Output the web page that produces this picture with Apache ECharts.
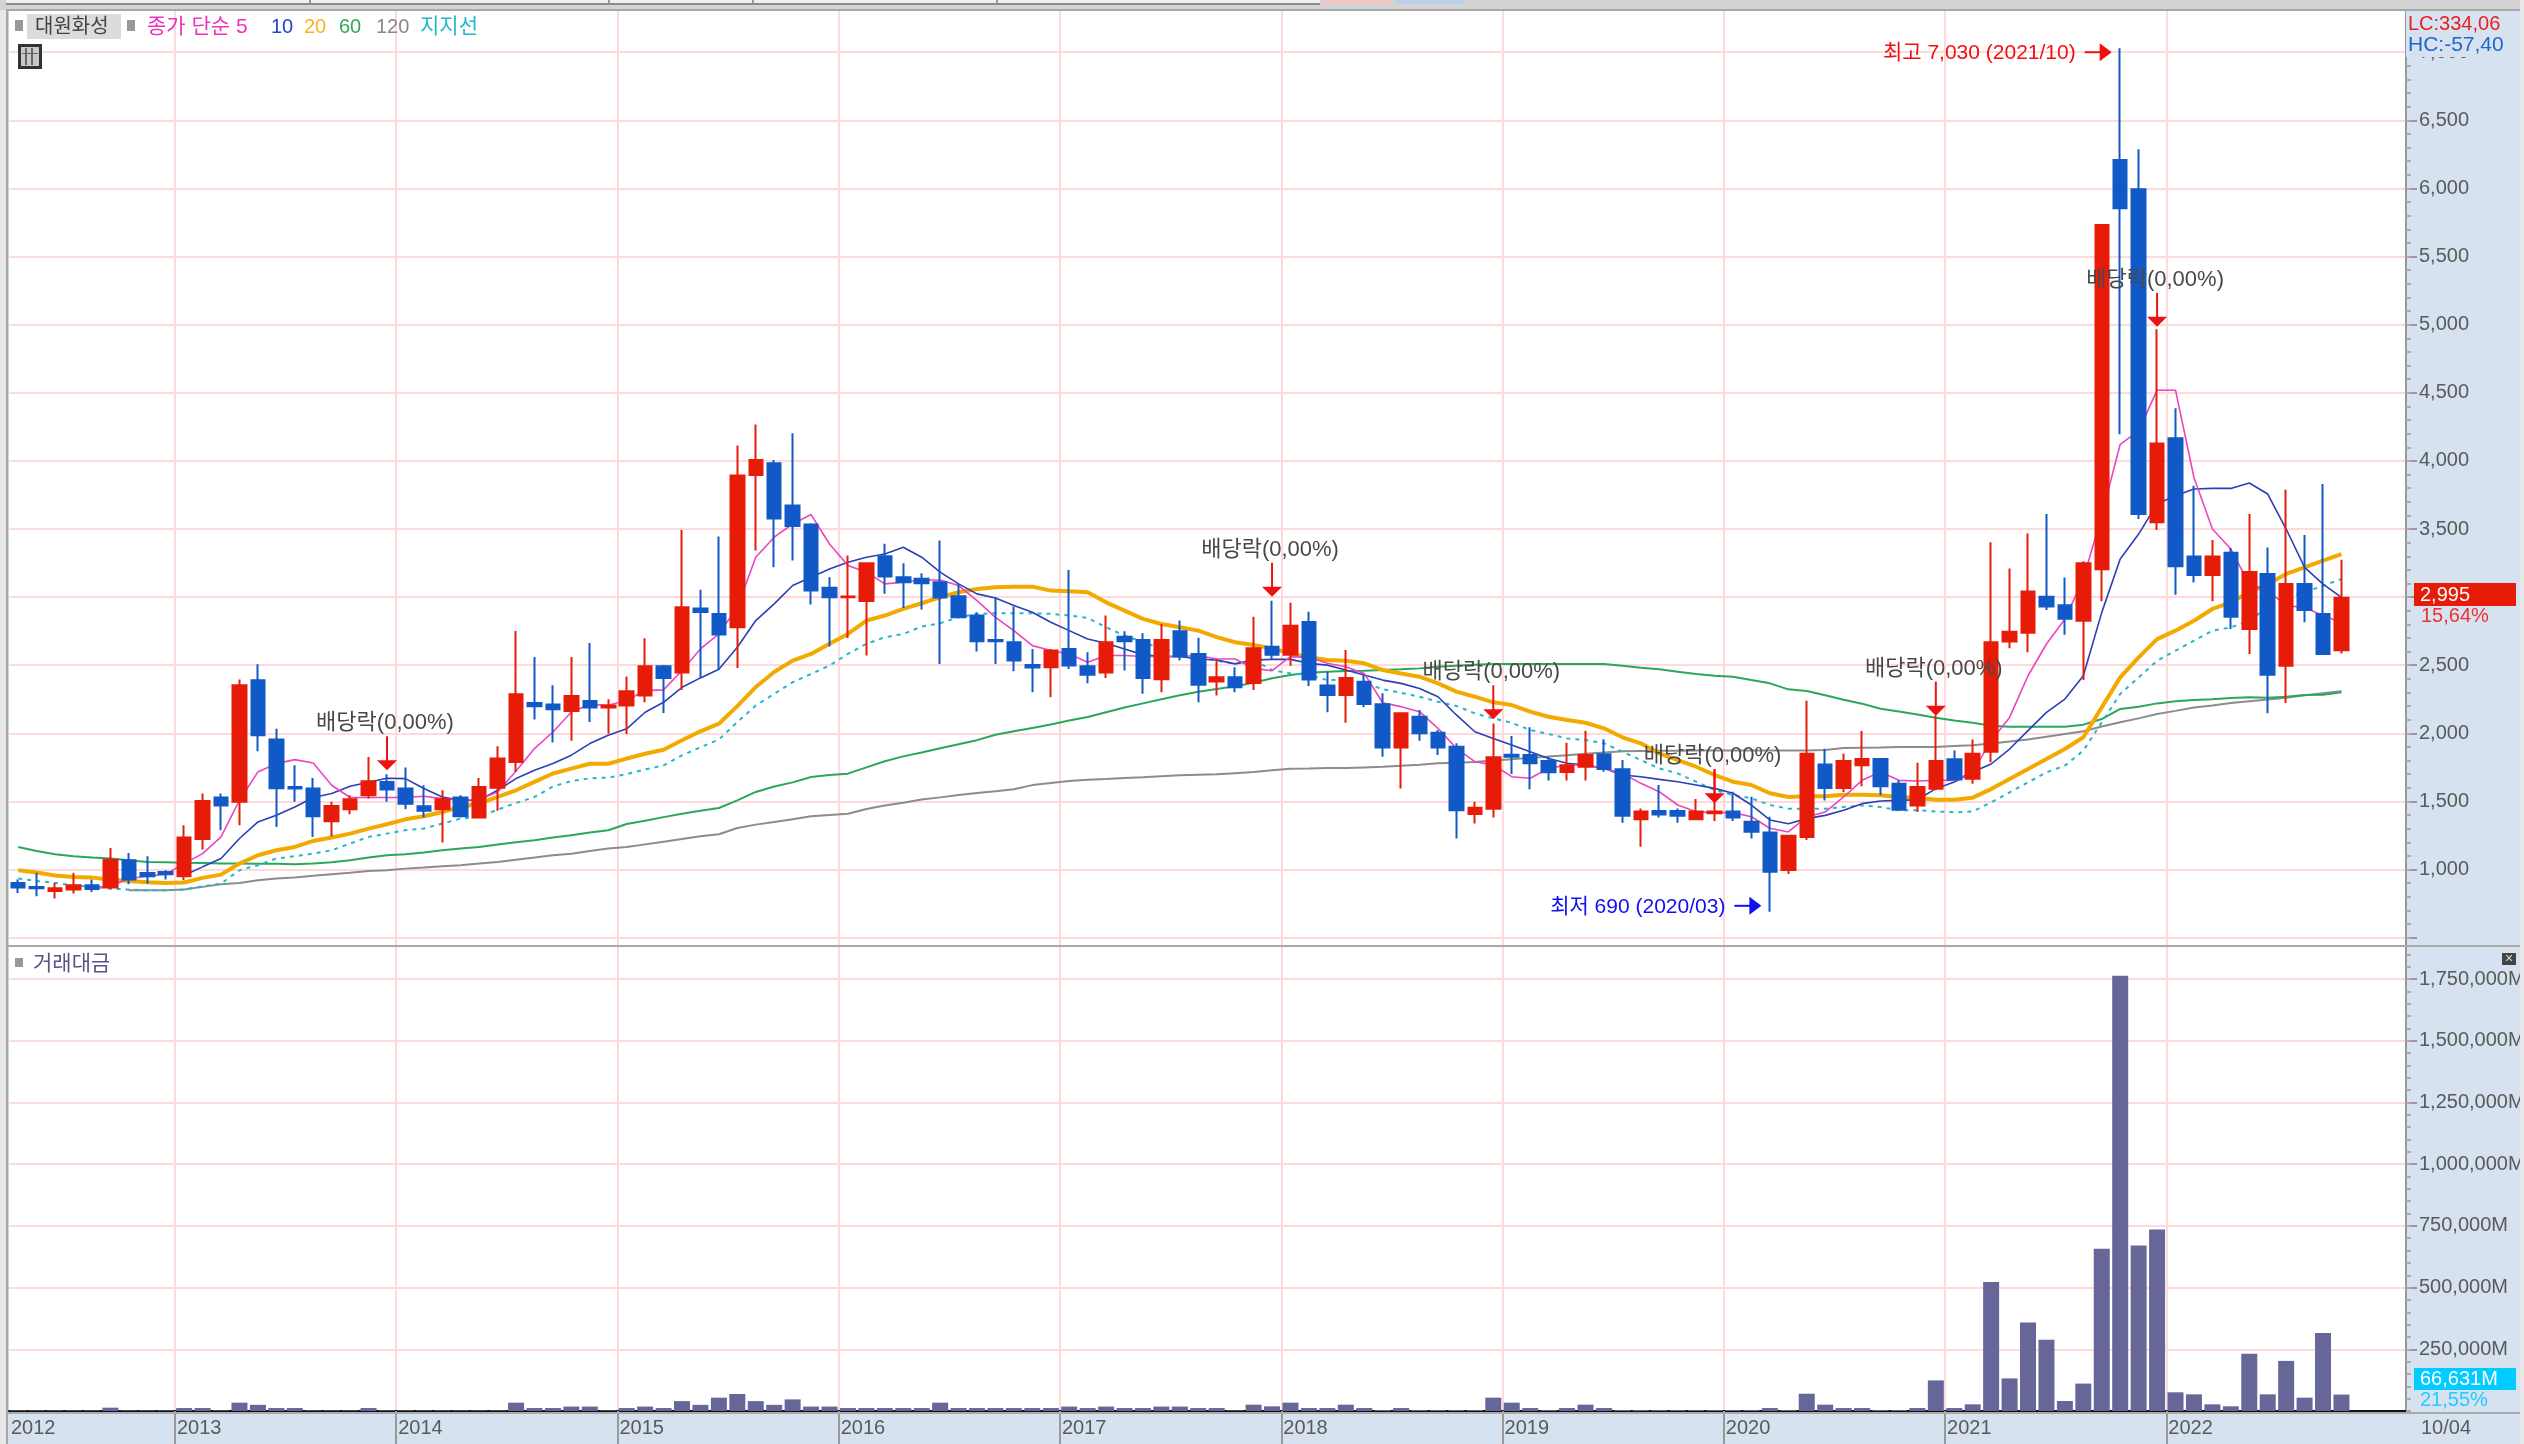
<!DOCTYPE html>
<html lang="ko">
<head>
<meta charset="UTF-8">
<title>대원화성</title>
<script src="https://cdn.jsdelivr.net/npm/echarts@6/dist/echarts.min.js"></script>
<style>
    html, body { margin: 0; padding: 0; background: #d3d3d3; }
    #chart { width: 2524px; height: 1444px; }
</style>
</head>
<body>
<div id="chart"></div>
<script>
// 월봉 시가/종가/저가/고가 (2012/04 ~ 2022/10)
const openPrices = [
    902,873,843,853,885,868,1068,975,983,951,
    1225,1529,1497,2390,1954,1607,1595,1355,1443,1546,
    1643,1595,1465,1443,1529,1382,1600,1790,2223,2211,
    2165,2238,2189,2204,2277,2493,2446,2916,2877,2779,
    3897,3983,3672,3533,3068,2999,2972,3300,3146,3134,
    3109,3006,2865,2686,2669,2502,2485,2620,2493,2446,
    2710,2686,2397,2750,2583,2380,2412,2369,2636,2577,
    2817,2352,2281,2379,2213,1897,2122,2005,1902,1408,
    1447,1843,1841,1797,1716,1755,1846,1736,1369,1430,
    1430,1369,1413,1427,1352,1273,997,1239,1772,1599,
    1765,1812,1630,1471,1594,1809,1667,1865,2675,2739,
    3003,2940,2827,3204,6209,5994,3549,4166,3299,3162,
    3326,2766,3170,2497,3096,2876,2610
];
const closePrices = [
    868,863,863,885,858,1073,927,951,966,1235,
    1504,1470,2353,1986,1597,1595,1391,1467,1516,1648,
    1587,1484,1431,1516,1391,1607,1815,2287,2199,2177,
    2275,2189,2204,2309,2493,2407,2926,2891,2725,3892,
    4007,3577,3523,3048,2999,3004,3249,3151,3109,3102,
    2997,2852,2676,2676,2534,2483,2608,2498,2431,2669,
    2676,2407,2686,2564,2356,2412,2338,2624,2577,2790,
    2396,2281,2406,2215,1897,2147,2000,1897,1435,1454,
    1824,1829,1780,1714,1765,1841,1738,1396,1427,1405,
    1396,1427,1427,1383,1278,984,1249,1851,1599,1797,
    1812,1611,1440,1606,1797,1662,1851,2668,2746,3042,
    2932,2842,3248,5731,5854,3610,4128,3226,3162,3299,
    2856,3184,2431,3096,2905,2582,2995
];
const lowPrices = [
    828,804,787,824,836,853,892,897,927,922,
    1147,1289,1325,1869,1313,1497,1240,1245,1406,1521,
    1497,1443,1382,1198,1382,1382,1431,1717,2101,1932,
    1945,2084,1998,1996,2228,2150,2319,2407,2466,2480,
    3342,3219,3268,2945,2637,2700,2571,3024,2921,2909,
    2510,2852,2600,2510,2456,2302,2265,2473,2368,2407,
    2461,2290,2302,2534,2228,2277,2302,2318,2538,2497,
    2347,2154,2078,2191,1829,1596,1946,1841,1229,1339,
    1383,1701,1589,1653,1653,1653,1719,1344,1168,1383,
    1344,1369,1356,1356,1229,690,967,1217,1508,1569,
    1611,1545,1435,1422,1582,1653,1630,1787,2624,2595,
    2905,2724,2392,2969,4195,3573,3493,3018,3108,2969,
    2766,2582,2147,2223,2815,2575,2587
];
const highPrices = [
    927,976,902,976,927,1159,1122,1098,995,1325,
    1558,1558,2395,2507,2033,1766,1673,1497,1546,1827,
    1700,1749,1619,1582,1546,1673,1905,2752,2561,2353,
    2561,2664,2250,2417,2698,2502,3493,3055,3445,4113,
    4267,4007,4203,3542,3146,3305,3249,3391,3249,3175,
    3415,3097,2889,2999,2931,2620,2620,3200,2595,2865,
    2750,2735,2803,2828,2701,2546,2485,2856,2974,2959,
    2893,2453,2612,2428,2294,2147,2171,2024,1927,1498,
    2073,1980,2044,1829,1931,2020,1956,1804,1449,1621,
    1449,1518,1736,1572,1535,1388,1254,2240,1887,1851,
    2017,1812,1655,1785,2132,1875,1954,3402,3211,3468,
    3610,3145,3263,5731,7030,6287,4966,4387,3818,3419,
    3361,3610,3365,3789,3456,3830,3275
];
const ma5 = [
    null,null,null,null,868,878,934,951,966,1044,
    1117,1240,1509,1717,1778,1807,1783,1619,1529,1529,
    1529,1529,1538,1521,1509,1514,1570,1724,1888,2010,
    2157,2211,2206,2241,2314,2319,2461,2620,2730,2926,
    3293,3440,3537,3606,3390,3232,3183,3097,3109,3126,
    3126,3085,2975,2852,2754,2644,2608,2583,2522,2571,
    2571,2564,2564,2564,2571,2546,2546,2477,2460,2563,
    2558,2514,2489,2440,2225,2196,2159,2037,1890,1792,
    1768,1682,1670,1743,1768,1768,1743,1706,1633,1572,
    1474,1425,1418,1418,1388,1303,1276,1386,1422,1533,
    1655,1716,1655,1650,1655,1655,1716,1946,2117,2423,
    2656,2839,3133,3600,4122,4220,4519,4519,3878,3500,
    3353,3096,3047,2937,2925,2864,2815
];
const ma10 = [
    null,null,null,null,null,null,null,null,null,958,
    1020,1081,1228,1350,1399,1460,1529,1558,1612,1641,
    1670,1668,1595,1533,1509,1509,1582,1668,1729,1778,
    1840,1925,1986,2033,2155,2228,2338,2407,2470,2632,
    2828,2950,3085,3146,3207,3256,3293,3317,3366,3293,
    3183,3097,3024,2994,2938,2889,2816,2754,2693,2661,
    2620,2578,2564,2564,2546,2539,2510,2538,2543,2543,
    2514,2501,2465,2428,2391,2367,2330,2269,2135,2012,
    1963,1914,1865,1816,1780,1768,1743,1694,1682,1662,
    1645,1621,1596,1560,1474,1364,1337,1374,1398,1435,
    1484,1503,1508,1513,1594,1643,1716,1775,1885,2020,
    2154,2252,2423,2888,3280,3463,3684,3745,3794,3798,
    3798,3838,3757,3500,3219,3096,2998
];
const ma20 = [
    995,978,956,946,941,927,917,907,902,905,
    939,963,1044,1105,1142,1166,1210,1235,1264,1301,
    1333,1369,1391,1423,1460,1485,1533,1582,1644,1705,
    1741,1777,1777,1815,1850,1880,1949,2015,2071,2200,
    2340,2450,2534,2583,2657,2730,2828,2865,2914,2955,
    2999,3036,3060,3073,3077,3077,3048,3043,3036,2962,
    2901,2840,2803,2779,2754,2706,2669,2648,2624,2587,
    2558,2538,2533,2514,2465,2440,2416,2367,2306,2269,
    2228,2208,2159,2122,2098,2078,2037,1971,1927,1853,
    1804,1755,1694,1645,1621,1560,1533,1538,1538,1550,
    1550,1545,1533,1528,1513,1513,1528,1591,1665,1738,
    1812,1885,1971,2191,2411,2558,2692,2754,2827,2913,
    2962,3035,3096,3170,3219,3268,3316
];
const ma60 = [
    1166,1137,1112,1098,1088,1081,1068,1056,1054,1051,
    1049,1044,1044,1042,1042,1039,1044,1054,1068,1088,
    1105,1112,1125,1142,1154,1166,1184,1200,1215,1235,
    1252,1272,1289,1335,1358,1385,1410,1432,1452,1508,
    1570,1610,1640,1680,1695,1704,1750,1795,1831,1860,
    1890,1920,1950,1990,2015,2040,2065,2095,2120,2155,
    2190,2220,2250,2280,2305,2325,2345,2372,2404,2428,
    2445,2453,2458,2460,2465,2470,2477,2489,2497,2504,
    2509,2509,2509,2509,2509,2509,2509,2497,2482,2470,
    2453,2436,2423,2416,2391,2367,2323,2311,2279,2247,
    2218,2181,2161,2139,2115,2095,2078,2056,2049,2049,
    2049,2049,2064,2105,2179,2196,2220,2235,2245,2250,
    2259,2265,2262,2269,2281,2284,2301
];
const ma120 = [
    null,null,null,null,null,null,848,848,848,853,
    873,892,902,922,934,941,954,966,976,990,
    995,1007,1015,1024,1032,1044,1056,1073,1088,1105,
    1117,1137,1154,1165,1185,1205,1225,1245,1259,1305,
    1330,1350,1370,1391,1400,1410,1445,1470,1490,1515,
    1530,1548,1562,1575,1590,1620,1635,1650,1660,1665,
    1672,1678,1685,1692,1697,1700,1708,1716,1730,1740,
    1742,1745,1745,1750,1755,1763,1770,1780,1785,1790,
    1800,1810,1820,1830,1840,1850,1860,1868,1870,1872,
    1873,1874,1875,1875,1875,1875,1875,1875,1878,1893,
    1895,1897,1900,1900,1900,1908,1912,1925,1940,1955,
    1975,1995,2015,2050,2081,2110,2142,2165,2190,2205,
    2222,2235,2248,2262,2280,2295,2310
];
const supportLine = [
    934,917,902,885,873,861,853,848,848,853,
    878,897,995,1032,1081,1098,1117,1142,1191,1240,
    1264,1289,1301,1338,1374,1387,1440,1489,1533,1610,
    1650,1670,1675,1700,1735,1765,1838,1898,1955,2083,
    2204,2290,2375,2436,2498,2583,2657,2706,2730,2784,
    2808,2852,2877,2882,2882,2882,2877,2865,2847,2779,
    2718,2669,2620,2595,2559,2534,2510,2538,2465,2440,
    2428,2391,2391,2367,2325,2298,2269,2232,2201,2147,
    2110,2078,2024,1995,1963,1951,1927,1865,1804,1743,
    1706,1645,1584,1547,1523,1474,1447,1447,1447,1459,
    1471,1459,1435,1435,1427,1420,1427,1493,1567,1640,
    1714,1763,1873,2081,2289,2411,2533,2607,2680,2754,
    2778,2827,2925,2998,3035,3084,3133
];
// 거래대금 (백만)
const tradeValue = [
    2700,2700,2700,2700,2700,13500,2700,2700,2700,12000,
    12000,2700,33750,25000,12000,12000,2700,2700,2700,12000,
    2700,2700,2700,2700,2700,2700,2700,33750,12000,12000,
    18000,18000,2700,12000,18000,12000,40000,25000,54000,69000,
    40000,25000,47000,18000,18000,12000,12000,12000,12000,12000,
    33750,12000,12000,12000,12000,12000,12000,18000,12000,18000,
    12000,12000,18000,18000,12000,12000,2700,25700,18900,33800,
    12000,12000,25700,12000,4000,12000,4000,4000,4000,4000,
    54000,33800,12000,4000,12000,25700,12000,4000,4000,4000,
    4000,4000,4000,4000,4000,12000,4000,70000,25700,12000,
    12000,4000,4000,12000,124000,12000,27000,523000,132000,359000,
    289000,40500,111000,657000,1764000,671000,735000,75700,67500,27000,
    19000,232000,67500,203000,54000,316000,66631
];

const priceGridTicks = [500,1000,1500,2000,2500,3000,3500,4000,4500,5000,5500,6000,6500,7000];
const priceLabels = [1000,1500,2000,2500,3000,3500,4000,4500,5000,5500,6000,6500,7000];
const tradeTicks = [250000,500000,750000,1000000,1250000,1500000,1750000];

// 배당락 표시 (봉 번호, 화살표 끝 값)
const dividendIdx = [20, 68, 80, 92, 104, 116];
const dividendTip = [1729, 3003, 2103, 1486, 2130, 4984];
// 최고/최저 표시
const extremeIdx = [114, 95];
const extremeVal = [7000, 734];
const extremeText = ['최고 7,030 (2021/10)', '최저 690 (2020/03)'];
const extremeColor = ['#f01010', '#1010f0'];

// 월 카테고리: 뒤쪽 3칸은 빈 칸
const months = [];
for (let y = 2012, m = 4; months.length < 131; m++) {
    if (m > 12) { m = 1; y++; }
    months.push(y + '-' + String(m).padStart(2, '0'));
}
const categories = months.slice(0, 130);

const minorPrice = [];
for (let v = 500; v <= 7300; v += 100) minorPrice.push(v);
const minorTrade = [];
for (let v = 0; v <= 1850000; v += 50000) minorTrade.push(v);

const FONT = '"Liberation Sans","Noto Sans CJK KR",sans-serif';
const GRID_PINK = '#ffdada';
const PANEL_BLUE = '#d6e2f0';

const candles = openPrices.map((o, i) => [o, closePrices[i], lowPrices[i], highPrices[i]]);
// 2023년 1월 칸은 표시하지 않음
const isJanuary = (i, v) => v.endsWith('-01') && i < 128;

function lineSeries(name, data, color, width, dash) {
    return {
        name: name, type: 'line', data: data,
        xAxisIndex: 0, yAxisIndex: 0,
        symbol: 'none', z: 3, silent: true,
        lineStyle: { color: color, width: width, type: dash || 'solid' }
    };
}

function renderDividend(params, api) {
    const p = api.coord([api.value(0), api.value(1)]);
    const x = p[0], y = p[1];
    return {
        type: 'group',
        children: [
            { type: 'line', shape: { x1: x, y1: y - 34, x2: x, y2: y - 6 }, style: { stroke: '#f01010', lineWidth: 2 } },
            { type: 'polygon', shape: { points: [[x - 10, y - 10], [x + 10, y - 10], [x, y]] }, style: { fill: '#f01010' } },
            { type: 'text', style: { text: '배당락(0,00%)', x: x - 2, y: y - 47, align: 'center', verticalAlign: 'middle', fill: '#484848', font: '22px ' + FONT } }
        ]
    };
}

function renderExtreme(params, api) {
    const i = params.dataIndex;
    const p = api.coord([api.value(0), api.value(1)]);
    const x = p[0] - 8.5, y = p[1];
    const color = extremeColor[i];
    return {
        type: 'group',
        children: [
            { type: 'line', shape: { x1: x - 27, y1: y, x2: x - 6, y2: y }, style: { stroke: color, lineWidth: 2 } },
            { type: 'polygon', shape: { points: [[x - 12, y - 9], [x - 12, y + 9], [x, y]] }, style: { fill: color } },
            { type: 'text', style: { text: extremeText[i], x: x - 36, y: y + 1, align: 'right', verticalAlign: 'middle', fill: color, font: '21px ' + FONT } }
        ]
    };
}

function label(text, x, y, color, size) {
    return { type: 'text', z: 120, silent: true, x: x, y: y, style: { text: text, fill: color, font: (size || 20) + 'px ' + FONT, verticalAlign: 'middle' } };
}
function box(x, y, w, h, fill, z) {
    return { type: 'rect', z: z === undefined ? 110 : z, silent: true, shape: { x: x, y: y, width: w, height: h }, style: { fill: fill } };
}

const chart = echarts.init(document.getElementById('chart'), null, { renderer: 'canvas' });

chart.setOption({
    animation: false,
    backgroundColor: '#d3d3d3',
    textStyle: { fontFamily: FONT },
    grid: [
        { left: 9, top: 10, width: 2397, height: 936, show: true, backgroundColor: '#fff', borderWidth: 0, outerBoundsMode: 'none' },
        { left: 9, top: 947, width: 2397, height: 464, show: true, backgroundColor: '#fff', borderWidth: 0, outerBoundsMode: 'none' }
    ],
    xAxis: [
        { type: 'category', gridIndex: 0, data: categories, show: false, position: 'bottom' },
        {
            type: 'category', gridIndex: 0, data: months, boundaryGap: false, position: 'top',
            axisLine: { show: false }, axisTick: { show: false }, axisLabel: { show: false },
            splitLine: { show: true, interval: isJanuary, lineStyle: { color: GRID_PINK, width: 2 } }
        },
        { type: 'category', gridIndex: 1, data: categories, show: false, position: 'top' },
        {
            type: 'category', gridIndex: 1, data: months, boundaryGap: false, position: 'bottom',
            axisLine: { show: true, onZero: false, lineStyle: { color: '#111', width: 2 } },
            axisTick: { show: true, interval: isJanuary, length: 33, lineStyle: { color: '#999', width: 2 } },
            axisLabel: {
                show: true, margin: 7, align: 'left', padding: [0, 0, 0, 2],
                color: '#5a5a5a', fontSize: 20, fontFamily: FONT,
                interval: (i, v) => i === 0 || isJanuary(i, v),
                formatter: v => v.slice(0, 4)
            },
            splitLine: { show: true, interval: isJanuary, lineStyle: { color: GRID_PINK, width: 2 } }
        }
    ],
    yAxis: [
        {
            type: 'value', gridIndex: 0, position: 'right', min: 439, max: 7310,
            axisLine: { show: true, lineStyle: { color: '#999', width: 2 } },
            axisTick: { show: true, customValues: priceGridTicks, length: 11, lineStyle: { color: '#999', width: 2 } },
            axisLabel: {
                show: true, customValues: priceLabels, margin: 13, color: '#5a5a5a', fontSize: 20, fontFamily: FONT,
                formatter: v => v.toLocaleString('en-US')
            },
            splitLine: { show: true, lineStyle: { color: GRID_PINK, width: 2 } }
        },
        {
            type: 'value', gridIndex: 0, position: 'right', min: 439, max: 7310,
            axisLine: { show: false }, axisLabel: { show: false }, splitLine: { show: false },
            axisTick: { show: true, customValues: minorPrice, length: 5, lineStyle: { color: '#aaa', width: 2 } }
        },
        {
            type: 'value', gridIndex: 1, position: 'right', min: 0, max: 1880000,
            axisLine: { show: true, lineStyle: { color: '#999', width: 2 } },
            axisTick: { show: true, customValues: tradeTicks, length: 11, lineStyle: { color: '#999', width: 2 } },
            axisLabel: {
                show: true, customValues: tradeTicks, margin: 13, color: '#5a5a5a', fontSize: 20, fontFamily: FONT,
                formatter: v => v.toLocaleString('en-US') + 'M'
            },
            splitLine: { show: true, lineStyle: { color: GRID_PINK, width: 2 } }
        },
        {
            type: 'value', gridIndex: 1, position: 'right', min: 0, max: 1880000,
            axisLine: { show: false }, axisLabel: { show: false }, splitLine: { show: false },
            axisTick: { show: true, customValues: minorTrade, length: 5, lineStyle: { color: '#aaa', width: 2 } }
        }
    ],
    series: [
        lineSeries('120', ma120, '#8c8c8c', 2),
        lineSeries('60', ma60, '#2aa85a', 2),
        lineSeries('지지선', supportLine, '#22b8cc', 2, [4, 5]),
        lineSeries('20', ma20, '#f2a900', 4),
        lineSeries('10', ma10, '#2a3fb8', 1.6),
        lineSeries('5', ma5, '#ee44c0', 1.6),
        {
            name: '대원화성', type: 'candlestick', data: candles,
            xAxisIndex: 0, yAxisIndex: 0, barWidth: 14, z: 5, silent: true,
            itemStyle: { color: '#e61c08', color0: '#1259c8', borderColor: '#e61c08', borderColor0: '#1259c8', borderWidth: 2 }
        },
        {
            name: '거래대금', type: 'bar', data: tradeValue,
            xAxisIndex: 2, yAxisIndex: 2, barWidth: 16, z: 5, silent: true,
            itemStyle: { color: '#666699' }
        },
        {
            name: '배당락', type: 'custom', coordinateSystem: 'cartesian2d',
            xAxisIndex: 0, yAxisIndex: 0, z: 10, silent: true, clip: false,
            data: dividendIdx.map((d, i) => [d, dividendTip[i]]),
            renderItem: renderDividend
        },
        {
            name: '최고최저', type: 'custom', coordinateSystem: 'cartesian2d',
            xAxisIndex: 0, yAxisIndex: 0, z: 10, silent: true, clip: false,
            data: extremeIdx.map((d, i) => [d, extremeVal[i]]),
            renderItem: renderExtreme
        }
    ],
    graphic: {
        elements: [
            // 배경
            box(0, 10, 8, 1434, '#e8e8e8', -10),
            box(2406, 10, 114, 1434, PANEL_BLUE, -10),
            box(2520, 0, 4, 1444, '#e8e8e8', 130),
            box(8, 1412, 2398, 32, PANEL_BLUE, -10),
            box(8, 1412, 2512, 2, '#aaaaaa', 105),
            box(7, 9, 2513, 2, '#a8a8a8', 105),
            box(7, 945, 2513, 2, '#a8a8a8', 105),
            box(6, 9, 2, 1435, '#a8a8a8', 105),
            // 상단 탭
            box(6, 0, 1314, 3, '#f0f0f0', 105),
            box(6, 3, 1314, 2, '#8a8a8a', 105),
            box(309, 0, 2, 3, '#999999', 106),
            box(608, 0, 2, 3, '#999999', 106),
            box(752, 0, 2, 3, '#999999', 106),
            box(996, 0, 2, 3, '#999999', 106),
            box(1324, 0, 66, 4, '#f2c6c0', 105),
            box(1396, 0, 68, 4, '#bcd0ea', 105),
            box(2406, 11, 114, 46, PANEL_BLUE, 108),
            // 범례
            box(15, 20, 8, 11, '#999999'),
            box(27, 14, 94, 25, '#dcdcdc'),
            label('대원화성', 35, 27, '#444444', 20),
            box(127, 20, 8, 11, '#999999'),
            label('종가 단순 5', 147, 27, '#ee33bb', 21),
            label('10', 271, 27, '#2244cc', 20),
            label('20', 304, 27, '#ffb020', 20),
            label('60', 339, 27, '#33aa55', 20),
            label('120', 376, 27, '#888888', 20),
            label('지지선', 420, 27, '#22b8cc', 21),
            // 표 아이콘
            box(18, 44, 24, 25, '#333333'),
            box(21, 47, 18, 19, '#c8c8c8'),
            box(25, 48, 2, 17, '#666666'),
            box(31, 48, 2, 17, '#666666'),
            box(22, 53, 16, 1, '#666666'),
            // 거래대금 패널
            box(15, 958, 8, 9, '#999999'),
            label('거래대금', 33, 964, '#555588', 21),
            box(2502, 953, 14, 12, '#444444'),
            label('×', 2505, 959, '#dddddd', 14),
            // 오른쪽 값 표시
            label('LC:334,06', 2408, 24, '#e82020'),
            label('HC:-57,40', 2408, 45, '#2266cc', 21),
            box(2414, 583, 102, 23, '#e61c08'),
            label('2,995', 2420, 595, '#ffffff'),
            label('15,64%', 2421, 616, '#ee3030'),
            box(2414, 1368, 102, 22, '#00ccff'),
            label('66,631M', 2420, 1379, '#ffffff'),
            label('21,55%', 2420, 1400, '#22ccff'),
            label('10/04', 2421, 1428, '#5a5a5a')
        ]
    }
});
</script>
</body>
</html>
